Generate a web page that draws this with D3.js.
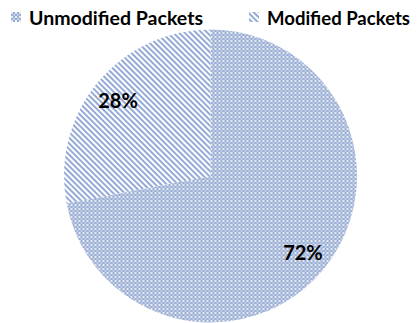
<!DOCTYPE html>
<html>
<head>
<meta charset="utf-8">
<script src="https://cdn.jsdelivr.net/npm/d3@7"></script>
<style>
  html, body { margin: 0; padding: 0; background: #fff; }
  svg { display: block; }
  text { font-family: Lato, "Open Sans", sans-serif; font-weight: 700; fill: #000; }
</style>
</head>
<body>
<svg id="chart" width="419" height="323"></svg>
<script>
// Packet share data
const categories = ["Unmodified Packets", "Modified Packets"];
const shares = [72, 28];
const labels = ["72%", "28%"];
const patternIds = ["checker", "stripes"];

const width = 419, height = 323;
const cx = 210.5, cy = 176, radius = 146.5;

const svg = d3.select("#chart");
const defs = svg.append("defs");

// Small check pattern
const chk = defs.append("pattern")
  .attr("id", "checker").attr("patternUnits", "userSpaceOnUse")
  .attr("width", 4).attr("height", 4);
chk.append("rect").attr("width", 4).attr("height", 4).attr("fill", "#9aadd4");
chk.append("rect").attr("x", 0).attr("y", 0).attr("width", 2).attr("height", 2).attr("fill", "#e6ebf4");
chk.append("rect").attr("x", 2).attr("y", 2).attr("width", 2).attr("height", 2).attr("fill", "#c0cce4");

// Diagonal stripes running down to the right
const str = defs.append("pattern")
  .attr("id", "stripes").attr("patternUnits", "userSpaceOnUse")
  .attr("width", 4).attr("height", 4)
  .attr("patternTransform", "rotate(45)");
str.append("rect").attr("width", 4).attr("height", 4).attr("fill", "#ffffff");
str.append("rect").attr("x", 0).attr("y", 0).attr("width", 4).attr("height", 1.8).attr("fill", "#8aa2d2");

const data = categories.map((c, i) => ({ cat: c, value: shares[i], label: labels[i], pat: patternIds[i] }));

const pie = d3.pie().sort(null).value(d => d.value).startAngle(0).endAngle(2 * Math.PI);
const arc = d3.arc().innerRadius(0).outerRadius(radius);
const labelArc = d3.arc().innerRadius(120).outerRadius(120);

const g = svg.append("g").attr("transform", `translate(${cx},${cy})`);
const arcs = pie(data);

g.selectAll("path.slice").data(arcs).join("path")
  .attr("class", "slice")
  .attr("d", arc)
  .attr("fill", d => `url(#${d.data.pat})`);

g.selectAll("text.val").data(arcs).join("text")
  .attr("class", "val")
  .attr("transform", d => `translate(${labelArc.centroid(d)})`)
  .attr("text-anchor", "middle")
  .attr("dominant-baseline", "central")
  .attr("font-size", 20)
  .text(d => d.data.label);

// Legend
const legendX = [11, 249];
const legendW = [174, 143];
const legend = svg.append("g");
const items = legend.selectAll("g").data(data).join("g")
  .attr("transform", (d, i) => `translate(${legendX[i]},12)`);
items.append("rect").attr("width", 10).attr("height", 10)
  .attr("fill", d => `url(#${d.pat})`);
items.append("text").attr("x", 18).attr("y", 12.5)
  .attr("font-size", 19.5)
  .attr("textLength", (d, i) => legendW[i])
  .attr("lengthAdjust", "spacingAndGlyphs")
  .text(d => d.cat);
</script>
</body>
</html>
